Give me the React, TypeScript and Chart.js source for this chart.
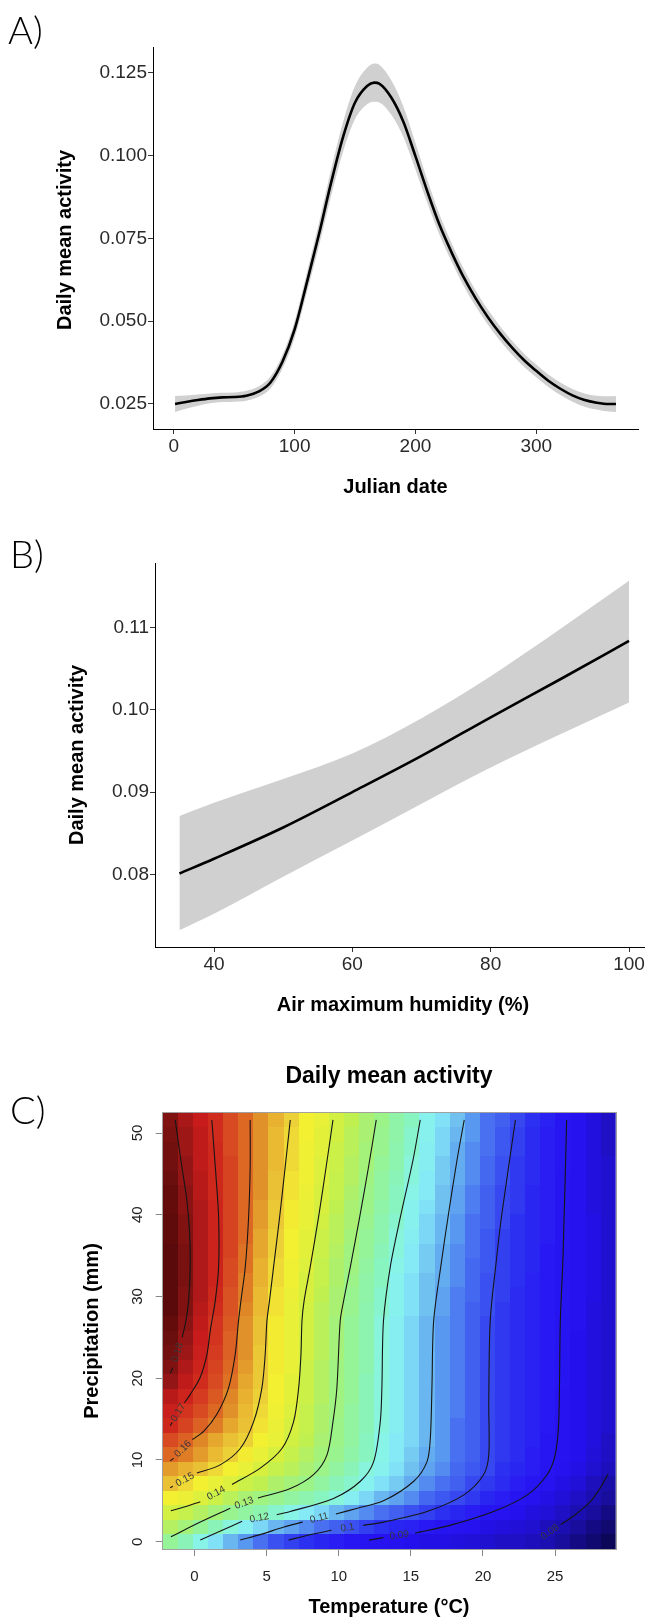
import React, { useEffect, useRef } from "react";
import { Chart, registerables } from "chart.js";
Chart.register(...registerables);

const FONT = '"Liberation Sans", Arial, Helvetica, sans-serif';
Chart.defaults.font.family = FONT;

// ---------------- Panel A: Julian date ----------------
const julianDays = [1, 10, 20, 30, 40, 50, 60, 70, 80, 90, 100, 110, 120, 130, 140, 150, 160, 166, 170, 180, 190, 200, 210, 220, 230, 240, 250, 260, 270, 280, 290, 300, 310, 320, 330, 340, 350, 360, 366];
const julianFit = [0.0250, 0.0256, 0.0262, 0.0267, 0.0270, 0.0271, 0.0275, 0.0287, 0.0315, 0.0378, 0.0475, 0.0615, 0.0760, 0.0915, 0.1055, 0.1160, 0.1210, 0.1220, 0.1217, 0.1175, 0.1102, 0.0998, 0.0890, 0.0790, 0.0707, 0.0632, 0.0568, 0.0512, 0.0463, 0.0420, 0.0382, 0.0350, 0.0320, 0.0296, 0.0276, 0.0262, 0.0254, 0.0250, 0.0250];
const julianUpper = [0.0274, 0.0276, 0.0279, 0.0282, 0.0284, 0.0285, 0.0290, 0.0303, 0.0333, 0.0399, 0.0500, 0.0645, 0.0795, 0.0955, 0.1100, 0.1210, 0.1265, 0.1278, 0.1274, 0.1227, 0.1148, 0.1038, 0.0925, 0.0821, 0.0735, 0.0658, 0.0592, 0.0535, 0.0485, 0.0441, 0.0402, 0.0369, 0.0339, 0.0315, 0.0295, 0.0282, 0.0275, 0.0273, 0.0274];
const julianLower = [0.0226, 0.0236, 0.0245, 0.0252, 0.0256, 0.0257, 0.0260, 0.0271, 0.0297, 0.0357, 0.0450, 0.0585, 0.0725, 0.0875, 0.1010, 0.1110, 0.1155, 0.1162, 0.1160, 0.1123, 0.1056, 0.0958, 0.0855, 0.0759, 0.0679, 0.0606, 0.0544, 0.0489, 0.0441, 0.0399, 0.0362, 0.0331, 0.0301, 0.0277, 0.0257, 0.0242, 0.0233, 0.0227, 0.0226];
const julianTicks = [0, 100, 200, 300];
const activityTicksA = [0.025, 0.05, 0.075, 0.1, 0.125];

// ---------------- Panel B: humidity ----------------
const humidity = [35, 40, 50, 60, 70, 80, 90, 100];
const humidityFit = [0.0801, 0.0819, 0.0857, 0.0900, 0.0944, 0.0991, 0.1037, 0.1084];
const humidityUpper = [0.0871, 0.0887, 0.0916, 0.0947, 0.0990, 0.1041, 0.1098, 0.1157];
const humidityLower = [0.0732, 0.0752, 0.0797, 0.0841, 0.0886, 0.0930, 0.0970, 0.1009];
const humidityTicks = [40, 60, 80, 100];
const activityTicksB = [0.08, 0.09, 0.10, 0.11];

// ---------------- Panel C: temperature x precipitation ----------------
const temperatureGrid = [-1.68, -0.63, 0.41, 1.46, 2.51, 3.55, 4.6, 5.65, 6.7, 7.74, 8.79, 9.84, 10.88, 11.93, 12.98, 14.02, 15.07, 16.12, 17.17, 18.21, 19.26, 20.31, 21.35, 22.4, 23.45, 24.49, 25.54, 26.59, 27.64, 28.68];
const precipitationGrid = [0, 1.78, 3.56, 5.34, 7.12, 8.9, 10.68, 12.46, 14.23, 16.01, 17.79, 19.57, 21.35, 23.13, 24.91, 26.69, 28.47, 30.25, 32.03, 33.81, 35.59, 37.37, 39.15, 40.93, 42.71, 44.49, 46.27, 48.05, 49.83, 51.6];
// rows: precipitation (bottom -> top); columns: temperature (left -> right)
const activityGrid = [
  [0.127, 0.123, 0.119, 0.115, 0.111, 0.108, 0.105, 0.101, 0.099, 0.097, 0.095, 0.093, 0.091, 0.090, 0.089, 0.088, 0.087, 0.086, 0.086, 0.085, 0.084, 0.083, 0.082, 0.082, 0.081, 0.080, 0.078, 0.076, 0.074, 0.071],
  [0.134, 0.131, 0.127, 0.123, 0.120, 0.117, 0.114, 0.111, 0.109, 0.107, 0.105, 0.103, 0.101, 0.099, 0.097, 0.095, 0.094, 0.092, 0.090, 0.089, 0.088, 0.086, 0.085, 0.084, 0.083, 0.081, 0.080, 0.078, 0.076, 0.074],
  [0.139, 0.137, 0.134, 0.131, 0.128, 0.126, 0.124, 0.121, 0.119, 0.116, 0.114, 0.111, 0.109, 0.107, 0.105, 0.103, 0.101, 0.099, 0.097, 0.095, 0.093, 0.090, 0.089, 0.087, 0.085, 0.084, 0.082, 0.080, 0.078, 0.076],
  [0.146, 0.144, 0.141, 0.138, 0.135, 0.132, 0.130, 0.128, 0.126, 0.124, 0.122, 0.120, 0.117, 0.114, 0.111, 0.109, 0.107, 0.104, 0.102, 0.100, 0.098, 0.095, 0.093, 0.090, 0.088, 0.086, 0.084, 0.082, 0.080, 0.078],
  [0.152, 0.149, 0.146, 0.143, 0.141, 0.138, 0.136, 0.133, 0.131, 0.129, 0.126, 0.123, 0.121, 0.118, 0.115, 0.113, 0.110, 0.107, 0.105, 0.103, 0.100, 0.098, 0.096, 0.093, 0.091, 0.089, 0.086, 0.084, 0.081, 0.079],
  [0.156, 0.154, 0.152, 0.149, 0.146, 0.143, 0.140, 0.137, 0.135, 0.132, 0.129, 0.126, 0.123, 0.120, 0.118, 0.115, 0.112, 0.109, 0.107, 0.104, 0.102, 0.100, 0.097, 0.095, 0.093, 0.090, 0.088, 0.086, 0.083, 0.081],
  [0.161, 0.159, 0.156, 0.153, 0.150, 0.147, 0.143, 0.140, 0.137, 0.134, 0.131, 0.128, 0.125, 0.122, 0.119, 0.116, 0.113, 0.110, 0.108, 0.105, 0.103, 0.100, 0.098, 0.096, 0.093, 0.091, 0.089, 0.087, 0.084, 0.082],
  [0.165, 0.162, 0.158, 0.155, 0.152, 0.150, 0.146, 0.143, 0.139, 0.136, 0.132, 0.129, 0.126, 0.122, 0.119, 0.116, 0.114, 0.111, 0.108, 0.105, 0.103, 0.100, 0.098, 0.096, 0.094, 0.091, 0.089, 0.087, 0.085, 0.082],
  [0.170, 0.166, 0.162, 0.159, 0.155, 0.152, 0.148, 0.144, 0.140, 0.137, 0.133, 0.129, 0.126, 0.123, 0.120, 0.117, 0.114, 0.111, 0.108, 0.105, 0.103, 0.100, 0.098, 0.096, 0.094, 0.092, 0.089, 0.087, 0.085, 0.083],
  [0.172, 0.168, 0.165, 0.161, 0.157, 0.153, 0.149, 0.145, 0.141, 0.137, 0.133, 0.130, 0.126, 0.123, 0.120, 0.117, 0.114, 0.111, 0.108, 0.106, 0.103, 0.100, 0.098, 0.096, 0.094, 0.092, 0.089, 0.087, 0.085, 0.083],
  [0.175, 0.171, 0.167, 0.163, 0.158, 0.154, 0.150, 0.146, 0.142, 0.138, 0.134, 0.130, 0.127, 0.123, 0.120, 0.117, 0.114, 0.111, 0.108, 0.106, 0.103, 0.100, 0.098, 0.096, 0.094, 0.092, 0.089, 0.087, 0.085, 0.083],
  [0.179, 0.174, 0.169, 0.165, 0.160, 0.155, 0.151, 0.146, 0.142, 0.138, 0.134, 0.130, 0.127, 0.123, 0.120, 0.117, 0.114, 0.111, 0.108, 0.106, 0.103, 0.100, 0.098, 0.096, 0.094, 0.092, 0.090, 0.087, 0.085, 0.083],
  [0.181, 0.176, 0.171, 0.166, 0.161, 0.156, 0.151, 0.147, 0.143, 0.138, 0.134, 0.130, 0.127, 0.124, 0.120, 0.117, 0.114, 0.111, 0.108, 0.106, 0.103, 0.100, 0.098, 0.096, 0.094, 0.092, 0.090, 0.087, 0.085, 0.083],
  [0.183, 0.178, 0.172, 0.167, 0.162, 0.157, 0.151, 0.147, 0.143, 0.139, 0.135, 0.131, 0.127, 0.124, 0.120, 0.117, 0.114, 0.111, 0.108, 0.106, 0.103, 0.100, 0.098, 0.096, 0.094, 0.092, 0.090, 0.087, 0.085, 0.083],
  [0.184, 0.179, 0.173, 0.168, 0.162, 0.157, 0.152, 0.147, 0.143, 0.139, 0.135, 0.131, 0.127, 0.124, 0.120, 0.117, 0.114, 0.111, 0.108, 0.106, 0.103, 0.100, 0.098, 0.096, 0.094, 0.092, 0.090, 0.087, 0.085, 0.083],
  [0.185, 0.180, 0.174, 0.168, 0.163, 0.157, 0.152, 0.147, 0.143, 0.139, 0.135, 0.131, 0.127, 0.124, 0.120, 0.117, 0.114, 0.111, 0.108, 0.106, 0.103, 0.100, 0.098, 0.096, 0.094, 0.092, 0.090, 0.088, 0.085, 0.083],
  [0.187, 0.181, 0.175, 0.169, 0.164, 0.158, 0.153, 0.148, 0.143, 0.139, 0.135, 0.132, 0.128, 0.124, 0.121, 0.118, 0.115, 0.112, 0.109, 0.106, 0.103, 0.101, 0.098, 0.096, 0.094, 0.092, 0.090, 0.088, 0.085, 0.083],
  [0.187, 0.181, 0.176, 0.170, 0.164, 0.159, 0.153, 0.148, 0.144, 0.140, 0.136, 0.132, 0.128, 0.125, 0.121, 0.118, 0.115, 0.112, 0.109, 0.106, 0.104, 0.101, 0.099, 0.096, 0.094, 0.092, 0.090, 0.088, 0.086, 0.083],
  [0.187, 0.182, 0.176, 0.171, 0.165, 0.159, 0.154, 0.149, 0.145, 0.140, 0.137, 0.133, 0.129, 0.125, 0.122, 0.118, 0.115, 0.112, 0.110, 0.107, 0.104, 0.101, 0.099, 0.097, 0.094, 0.092, 0.090, 0.088, 0.086, 0.083],
  [0.187, 0.182, 0.176, 0.171, 0.165, 0.160, 0.154, 0.149, 0.145, 0.141, 0.137, 0.133, 0.130, 0.126, 0.122, 0.119, 0.116, 0.113, 0.110, 0.107, 0.104, 0.102, 0.099, 0.097, 0.095, 0.092, 0.090, 0.088, 0.086, 0.083],
  [0.187, 0.182, 0.176, 0.171, 0.166, 0.160, 0.155, 0.150, 0.146, 0.142, 0.138, 0.134, 0.130, 0.127, 0.123, 0.120, 0.116, 0.113, 0.110, 0.107, 0.105, 0.102, 0.099, 0.097, 0.095, 0.092, 0.090, 0.088, 0.086, 0.083],
  [0.186, 0.181, 0.176, 0.171, 0.166, 0.161, 0.155, 0.150, 0.146, 0.142, 0.138, 0.135, 0.131, 0.127, 0.124, 0.120, 0.117, 0.114, 0.111, 0.108, 0.105, 0.102, 0.099, 0.097, 0.095, 0.093, 0.090, 0.088, 0.086, 0.083],
  [0.186, 0.181, 0.176, 0.171, 0.166, 0.161, 0.156, 0.151, 0.147, 0.143, 0.139, 0.135, 0.132, 0.128, 0.124, 0.121, 0.118, 0.114, 0.111, 0.108, 0.105, 0.103, 0.100, 0.097, 0.095, 0.093, 0.090, 0.088, 0.086, 0.083],
  [0.185, 0.180, 0.176, 0.171, 0.166, 0.161, 0.156, 0.151, 0.147, 0.143, 0.140, 0.136, 0.132, 0.129, 0.125, 0.122, 0.118, 0.115, 0.112, 0.109, 0.106, 0.103, 0.100, 0.098, 0.095, 0.093, 0.090, 0.088, 0.085, 0.083],
  [0.185, 0.180, 0.175, 0.170, 0.166, 0.161, 0.157, 0.152, 0.148, 0.144, 0.140, 0.137, 0.133, 0.129, 0.126, 0.122, 0.119, 0.116, 0.112, 0.109, 0.106, 0.103, 0.100, 0.098, 0.095, 0.093, 0.090, 0.088, 0.085, 0.083],
  [0.184, 0.179, 0.175, 0.170, 0.166, 0.161, 0.157, 0.152, 0.148, 0.145, 0.141, 0.137, 0.134, 0.130, 0.126, 0.123, 0.120, 0.116, 0.113, 0.110, 0.107, 0.104, 0.101, 0.098, 0.096, 0.093, 0.090, 0.088, 0.085, 0.083],
  [0.183, 0.179, 0.174, 0.170, 0.166, 0.161, 0.157, 0.153, 0.149, 0.145, 0.141, 0.138, 0.134, 0.131, 0.127, 0.124, 0.120, 0.117, 0.113, 0.110, 0.107, 0.104, 0.101, 0.098, 0.096, 0.093, 0.091, 0.088, 0.085, 0.083],
  [0.183, 0.178, 0.174, 0.170, 0.165, 0.161, 0.157, 0.153, 0.149, 0.145, 0.142, 0.138, 0.135, 0.131, 0.128, 0.124, 0.121, 0.117, 0.114, 0.110, 0.107, 0.105, 0.102, 0.099, 0.096, 0.093, 0.091, 0.088, 0.085, 0.082],
  [0.182, 0.178, 0.174, 0.169, 0.165, 0.161, 0.157, 0.153, 0.149, 0.146, 0.142, 0.139, 0.135, 0.132, 0.128, 0.125, 0.121, 0.118, 0.114, 0.111, 0.108, 0.105, 0.102, 0.099, 0.096, 0.093, 0.091, 0.088, 0.085, 0.082],
  [0.181, 0.177, 0.173, 0.169, 0.165, 0.161, 0.157, 0.154, 0.150, 0.146, 0.143, 0.139, 0.136, 0.132, 0.129, 0.125, 0.122, 0.118, 0.115, 0.112, 0.108, 0.105, 0.103, 0.100, 0.097, 0.094, 0.091, 0.088, 0.085, 0.082],
];
const contourLevels = [0.18, 0.17, 0.16, 0.15, 0.14, 0.13, 0.12, 0.11, 0.10, 0.09, 0.08];
// [temperature, precipitation] along each contour; null = gap where the label sits
const contour018 = [[-1.34, 51.6], [-0.88, 45.9], [-0.53, 41.8], [-0.34, 37.7], [-0.3, 33.6], [-0.41, 29.5], [-0.6, 27.0], [-0.85, 25.0], null, [-1.5, 21.3], [-1.68, 20.6]];
const contour017 = [[1.2, 51.6], [1.44, 45.9], [1.67, 39.7], [1.67, 33.6], [1.44, 29.5], [1.09, 25.8], [0.86, 22.9], [0.39, 20.1], [-0.3, 18.0], [-0.7, 17.0], null, [-1.55, 14.6], [-1.68, 14.2]];
const contour016 = [[3.86, 51.6], [3.86, 45.9], [3.75, 39.7], [3.52, 33.6], [3.22, 29.5], [3.05, 27.0], [2.82, 22.9], [2.36, 18.8], [1.55, 15.6], [0.63, 13.5], [-0.15, 12.5], null, [-1.45, 10.2], [-1.68, 9.9]];
const contour015 = [[6.64, 51.6], [6.29, 45.9], [5.9, 39.7], [5.48, 33.6], [5.2, 29.5], [5.02, 27.0], [4.9, 22.9], [4.67, 18.8], [4.1, 14.7], [3.17, 11.4], [1.78, 9.4], [0.17, 8.4], null, [-1.5, 6.8], [-1.68, 6.6]];
const contour014 = [[9.6, 51.6], [9.13, 45.9], [8.6, 39.7], [8.02, 33.6], [7.6, 29.5], [7.45, 27.0], [7.38, 22.9], [7.22, 18.8], [6.87, 14.7], [6.06, 11.4], [4.56, 9.0], [2.6, 7.0], null, [0.4, 4.9], [-0.6, 4.3], [-1.64, 3.8]];
const contour013 = [[12.6, 51.6], [12.07, 45.9], [11.45, 39.7], [10.8, 33.6], [10.34, 29.5], [10.1, 27.0], [9.87, 18.8], [9.6, 14.7], [9.18, 10.6], [8.25, 8.2], [6.64, 6.5], [4.4, 5.35], null, [2.48, 4.1], [0.4, 2.4], [-1.64, 0.6]];
const contour012 = [[15.65, 51.6], [15.15, 46.7], [14.27, 39.7], [13.57, 33.6], [13.1, 27.0], [12.99, 18.8], [12.88, 14.7], [12.42, 9.8], [11.5, 7.4], [9.64, 5.3], [6.64, 3.7], [5.7, 3.3], null, [3.3, 2.5], [1.8, 1.3], [0.4, 0.2]];
const contour011 = [[18.7, 51.6], [18.2, 46.7], [17.6, 40.0], [17.1, 34.0], [16.58, 27.0], [16.46, 18.8], [16.35, 12.7], [16.12, 9.8], [15.2, 7.4], [13.1, 5.0], [11.3, 4.1], [9.8, 3.4], null, [7.5, 2.4], [6.2, 1.8], [4.6, 0.9], [3.17, 0.2]];
const contour010 = [[22.25, 51.6], [21.3, 40.0], [20.9, 34.0], [20.5, 27.0], [20.4, 16.8], [20.4, 10.6], [20.04, 8.2], [18.65, 5.7], [16.12, 3.7], [13.1, 2.4], [11.7, 2.0], null, [9.5, 1.4], [8.0, 0.85], [6.52, 0.2]];
const contour009 = [[25.8, 51.6], [25.55, 35.0], [25.36, 27.0], [25.25, 14.7], [25.0, 10.6], [24.44, 8.2], [23.05, 5.7], [20.74, 3.7], [17.7, 2.0], [15.3, 1.05], null, [13.1, 0.5], [12.1, 0.2]];
const contour008 = [[23.9, 0.3], null, [25.4, 2.1], [26.4, 3.3], [27.44, 4.9], [28.1, 6.5], [28.68, 8.3]];
const contourPaths = [contour018, contour017, contour016, contour015, contour014, contour013, contour012, contour011, contour010, contour009, contour008];
const temperatureTicks = [0, 5, 10, 15, 20, 25];
const precipitationTicks = [0, 10, 20, 30, 40, 50];

// colour ramp (style)
const paletteStops: [number, string][] = [
  [0.070, "#0a0650"], [0.075, "#120a78"], [0.079, "#1a0ea8"], [0.083, "#2010d0"], [0.087, "#2410ec"],
  [0.092, "#2818f4"], [0.097, "#2c30f0"], [0.101, "#3a50f0"], [0.105, "#4870f0"], [0.108, "#5898f0"],
  [0.112, "#70c0f0"], [0.1155, "#84e8f8"], [0.119, "#88f4e8"], [0.122, "#88f4c0"], [0.1255, "#90f4a4"],
  [0.129, "#9cf488"], [0.1325, "#acf070"], [0.136, "#c0f050"], [0.1395, "#d4f040"], [0.143, "#e8f038"],
  [0.1465, "#f4f030"], [0.150, "#ecd038"], [0.1538, "#e8b430"], [0.1575, "#e08c28"], [0.161, "#dc6824"],
  [0.165, "#d84a22"], [0.169, "#d02c1e"], [0.173, "#c81c1c"], [0.177, "#a81818"], [0.181, "#801212"],
  [0.185, "#640c0c"], [0.189, "#500808"],
];
function hexRgb(h: string) {
  return [parseInt(h.slice(1, 3), 16), parseInt(h.slice(3, 5), 16), parseInt(h.slice(5, 7), 16)];
}
function colorFor(v: number) {
  if (v <= paletteStops[0][0]) return paletteStops[0][1];
  for (let k = 1; k < paletteStops.length; k++) {
    if (v <= paletteStops[k][0]) {
      const [v0, c0] = paletteStops[k - 1];
      const [v1, c1] = paletteStops[k];
      const t = (v - v0) / (v1 - v0);
      const a = hexRgb(c0), b = hexRgb(c1);
      return `rgb(${Math.round(a[0] + (b[0] - a[0]) * t)},${Math.round(a[1] + (b[1] - a[1]) * t)},${Math.round(a[2] + (b[2] - a[2]) * t)})`;
    }
  }
  return paletteStops[paletteStops.length - 1][1];
}

type Txt = { text: string; x: number; y: number; font: string; rotate?: number; align?: CanvasTextAlign; baseline?: CanvasTextBaseline; color?: string };
const textPlugin = (items: Txt[]) => ({
  id: "texts",
  afterDraw(chart: any) {
    const ctx = chart.ctx;
    items.forEach((t) => {
      ctx.save();
      ctx.translate(t.x, t.y);
      if (t.rotate) ctx.rotate(t.rotate);
      ctx.font = t.font;
      ctx.fillStyle = t.color || "#000";
      ctx.textAlign = t.align || "center";
      ctx.textBaseline = t.baseline || "middle";
      ctx.fillText(t.text, 0, 0);
      ctx.restore();
    });
  },
});

const ggAxis = (min: number, max: number, ticks: number[], fmt: (v: number) => string, fitSize: number, horizontal: boolean) => ({
  type: "linear" as const,
  min,
  max,
  afterBuildTicks: (s: any) => { s.ticks = ticks.map((v) => ({ value: v })); },
  afterFit: (s: any) => { if (horizontal) s.height = fitSize; else s.width = fitSize; },
  grid: { display: true, drawOnChartArea: false, drawTicks: true, tickLength: 5, tickColor: "#333", tickWidth: 1 },
  border: { display: true, color: "#000", width: 1 },
  ticks: { color: "#2a2a2a", font: { family: FONT, size: 19 }, padding: 1, maxRotation: 0, minRotation: 0, callback: (v: any) => fmt(Number(v)) },
});

const LETTER_FONT = '300 38px Lato, "Liberation Sans", Arial, sans-serif';
const TITLE_FONT = `bold 20px ${FONT}`;

function buildA(canvas: HTMLCanvasElement) {
  const pts = (ys: number[]) => julianDays.map((d, i) => ({ x: d, y: ys[i] }));
  return new Chart(canvas, {
    type: "line",
    data: {
      datasets: [
        { data: pts(julianFit), borderColor: "#000", borderWidth: 2.6, pointRadius: 0, cubicInterpolationMode: "monotone", fill: false, order: 0 },
        { data: pts(julianUpper), borderWidth: 0, borderColor: "rgba(0,0,0,0)", pointRadius: 0, cubicInterpolationMode: "monotone", fill: "+1", backgroundColor: "#d0d0d0", order: 1 },
        { data: pts(julianLower), borderWidth: 0, borderColor: "rgba(0,0,0,0)", pointRadius: 0, cubicInterpolationMode: "monotone", fill: false, order: 2 },
      ],
    } as any,
    options: {
      animation: false,
      responsive: false,
      events: [],
      layout: { padding: { top: 47, right: 7, left: 0, bottom: 0 } },
      plugins: { legend: { display: false }, tooltip: { enabled: false } },
      scales: {
        x: ggAxis(-17.25, 384.25, julianTicks, (v) => String(v), 91, true),
        y: ggAxis(0.01745, 0.13276, activityTicksA, (v) => v.toFixed(3), 153, false),
      } as any,
    },
    plugins: [
      textPlugin([
        { text: "A)", x: 8, y: 44, font: LETTER_FONT, align: "left", baseline: "alphabetic" },
        { text: "Daily mean activity", x: 65, y: 240, font: TITLE_FONT, rotate: -Math.PI / 2 },
        { text: "Julian date", x: 395.5, y: 487, font: TITLE_FONT },
      ]),
    ],
  });
}

function buildB(canvas: HTMLCanvasElement) {
  const pts = (ys: number[]) => humidity.map((h, i) => ({ x: h, y: ys[i] }));
  return new Chart(canvas, {
    type: "line",
    data: {
      datasets: [
        { data: pts(humidityFit), borderColor: "#000", borderWidth: 2.6, pointRadius: 0, cubicInterpolationMode: "monotone", fill: false, order: 0 },
        { data: pts(humidityUpper), borderWidth: 0, borderColor: "rgba(0,0,0,0)", pointRadius: 0, cubicInterpolationMode: "monotone", fill: "+1", backgroundColor: "#d0d0d0", order: 1 },
        { data: pts(humidityLower), borderWidth: 0, borderColor: "rgba(0,0,0,0)", pointRadius: 0, cubicInterpolationMode: "monotone", fill: false, order: 2 },
      ],
    } as any,
    options: {
      animation: false,
      responsive: false,
      events: [],
      layout: { padding: { top: 43, right: 8.5, left: 0, bottom: 0 } },
      plugins: { legend: { display: false }, tooltip: { enabled: false } },
      scales: {
        x: ggAxis(31.47, 103.25, humidityTicks, (v) => String(v), 93, true),
        y: ggAxis(0.07116, 0.11787, activityTicksB, (v) => v.toFixed(2), 155, false),
      } as any,
    },
    plugins: [
      textPlugin([
        { text: "B)", x: 10, y: 48, font: LETTER_FONT, align: "left", baseline: "alphabetic" },
        { text: "Daily mean activity", x: 77, y: 235, font: TITLE_FONT, rotate: -Math.PI / 2 },
        { text: "Air maximum humidity (%)", x: 403, y: 485, font: TITLE_FONT },
      ]),
    ],
  });
}

function buildC(canvas: HTMLCanvasElement) {
  const nT = temperatureGrid.length, nP = precipitationGrid.length;
  const tStep0 = temperatureGrid[1] - temperatureGrid[0];
  const tStep1 = temperatureGrid[nT - 1] - temperatureGrid[nT - 2];
  const pStep0 = precipitationGrid[1] - precipitationGrid[0];
  const pStep1 = precipitationGrid[nP - 1] - precipitationGrid[nP - 2];
  const tMin = temperatureGrid[0] - tStep0 / 2, tMax = temperatureGrid[nT - 1] + tStep1 / 2;
  const pMin = precipitationGrid[0] - pStep0 / 2, pMax = precipitationGrid[nP - 1] + pStep1 / 2;
  const edge = (g: number[], i: number, lo: number, hi: number) => (i < 0 ? lo : i >= g.length - 1 ? hi : (g[i] + g[i + 1]) / 2);

  const datasets: any[] = [];
  const labelSpots: { level: number; a: number[]; b: number[] }[] = [];
  const mk = (seg: { x: number; y: number }[]) => ({
    data: seg, showLine: true, borderColor: "#151515", borderWidth: 1.1, pointRadius: 0, tension: 0.3, fill: false,
  });
  contourPaths.forEach((path: any[], k) => {
    let seg: { x: number; y: number }[] = [];
    path.forEach((pt, idx) => {
      if (pt === null) {
        if (seg.length > 1) datasets.push(mk(seg));
        labelSpots.push({ level: contourLevels[k], a: path[idx - 1], b: path[idx + 1] });
        seg = [];
      } else seg.push({ x: pt[0], y: pt[1] });
    });
    if (seg.length > 1) datasets.push(mk(seg));
  });

  const heatPlugin = {
    id: "heat",
    beforeDatasetsDraw(chart: any) {
      const { ctx, chartArea: ca, scales } = chart;
      const xs = scales.x, ys = scales.y;
      ctx.save();
      ctx.beginPath();
      ctx.rect(ca.left, ca.top, ca.right - ca.left, ca.bottom - ca.top);
      ctx.clip();
      for (let j = 0; j < nP; j++) {
        const pLo = edge(precipitationGrid, j - 1, pMin, pMax);
        const pHi = edge(precipitationGrid, j, pMin, pMax);
        const y0 = Math.round(ys.getPixelForValue(pHi));
        const y1 = Math.round(ys.getPixelForValue(pLo));
        for (let i = 0; i < nT; i++) {
          const v = activityGrid[j] ? activityGrid[j][i] : undefined;
          if (v === undefined) continue;
          const tLo = edge(temperatureGrid, i - 1, tMin, tMax);
          const tHi = edge(temperatureGrid, i, tMin, tMax);
          const x0 = Math.round(xs.getPixelForValue(tLo));
          const x1 = Math.round(xs.getPixelForValue(tHi));
          ctx.fillStyle = colorFor(v);
          ctx.fillRect(x0, y0, x1 - x0, y1 - y0);
        }
      }
      ctx.restore();
    },
    afterDatasetsDraw(chart: any) {
      const { ctx, chartArea: ca, scales } = chart;
      const xs = scales.x, ys = scales.y;
      ctx.save();
      // contour labels
      ctx.font = `10px ${FONT}`;
      ctx.fillStyle = "#3a3a3a";
      ctx.textAlign = "center";
      ctx.textBaseline = "middle";
      labelSpots.forEach((s) => {
        const ax = xs.getPixelForValue(s.a[0]), ay = ys.getPixelForValue(s.a[1]);
        const bx = xs.getPixelForValue(s.b[0]), by = ys.getPixelForValue(s.b[1]);
        let ang = Math.atan2(by - ay, bx - ax);
        if (ang > Math.PI / 2) ang -= Math.PI;
        if (ang < -Math.PI / 2) ang += Math.PI;
        ctx.save();
        ctx.translate((ax + bx) / 2, (ay + by) / 2);
        ctx.rotate(ang);
        ctx.fillText(String(s.level), 0, 0);
        ctx.restore();
      });
      // frame
      ctx.strokeStyle = "#a0a0a0";
      ctx.lineWidth = 1;
      ctx.strokeRect(Math.round(ca.left) - 0.5, Math.round(ca.top) - 0.5, Math.round(ca.right - ca.left) + 1, Math.round(ca.bottom - ca.top) + 1);
      // rotated y tick labels
      ctx.font = `15px ${FONT}`;
      ctx.fillStyle = "#222";
      precipitationTicks.forEach((v) => {
        ctx.save();
        ctx.translate(ca.left - 25, ys.getPixelForValue(v));
        ctx.rotate(-Math.PI / 2);
        ctx.fillText(String(v), 0, 0);
        ctx.restore();
      });
      ctx.restore();
    },
  };

  return new Chart(canvas, {
    type: "scatter",
    data: { datasets },
    options: {
      animation: false,
      responsive: false,
      events: [],
      layout: { padding: { top: 72.7, right: 29.3, left: 0, bottom: 0 } },
      plugins: { legend: { display: false }, tooltip: { enabled: false } },
      scales: {
        x: {
          type: "linear", min: tMin, max: tMax,
          afterBuildTicks: (s: any) => { s.ticks = temperatureTicks.map((v) => ({ value: v })); },
          afterFit: (s: any) => { s.height = 68; },
          grid: { display: true, drawOnChartArea: false, drawTicks: true, tickLength: 7, tickColor: "#888", tickWidth: 1 },
          border: { display: false },
          ticks: { color: "#222", font: { family: FONT, size: 15 }, padding: 12, maxRotation: 0, minRotation: 0, callback: (v: any) => String(v) },
        },
        y: {
          type: "linear", min: pMin, max: pMax,
          afterBuildTicks: (s: any) => { s.ticks = precipitationTicks.map((v) => ({ value: v })); },
          afterFit: (s: any) => { s.width = 162.7; },
          grid: { display: true, drawOnChartArea: false, drawTicks: true, tickLength: 7, tickColor: "#888", tickWidth: 1 },
          border: { display: false },
          ticks: { display: false },
        },
      } as any,
    },
    plugins: [
      heatPlugin,
      textPlugin([
        { text: "C)", x: 10, y: 84, font: LETTER_FONT, align: "left", baseline: "alphabetic" },
        { text: "Daily mean activity", x: 389, y: 37, font: `bold 23px ${FONT}` },
        { text: "Precipitation (mm)", x: 92, y: 291, font: TITLE_FONT, rotate: -Math.PI / 2 },
        { text: "Temperature (°C)", x: 389, y: 567, font: TITLE_FONT },
      ]),
    ],
  });
}

function ChartCanvas({ width, height, top, build }: { width: number; height: number; top: number; build: (c: HTMLCanvasElement) => Chart }) {
  const ref = useRef<HTMLCanvasElement | null>(null);
  useEffect(() => {
    if (!ref.current) return;
    const chart = build(ref.current);
    return () => chart.destroy();
  }, []);
  return <canvas ref={ref} width={width} height={height} style={{ position: "absolute", left: 0, top, width, height, display: "block" }} />;
}

export default function App() {
  return (
    <div style={{ position: "absolute", left: 0, top: 0, width: 645, height: 1617, overflow: "hidden", background: "#fff" }}>
      <ChartCanvas width={645} height={520} top={0} build={buildA} />
      <ChartCanvas width={660} height={520} top={520} build={buildB} />
      <ChartCanvas width={645} height={577} top={1040} build={buildC} />
    </div>
  );
}
